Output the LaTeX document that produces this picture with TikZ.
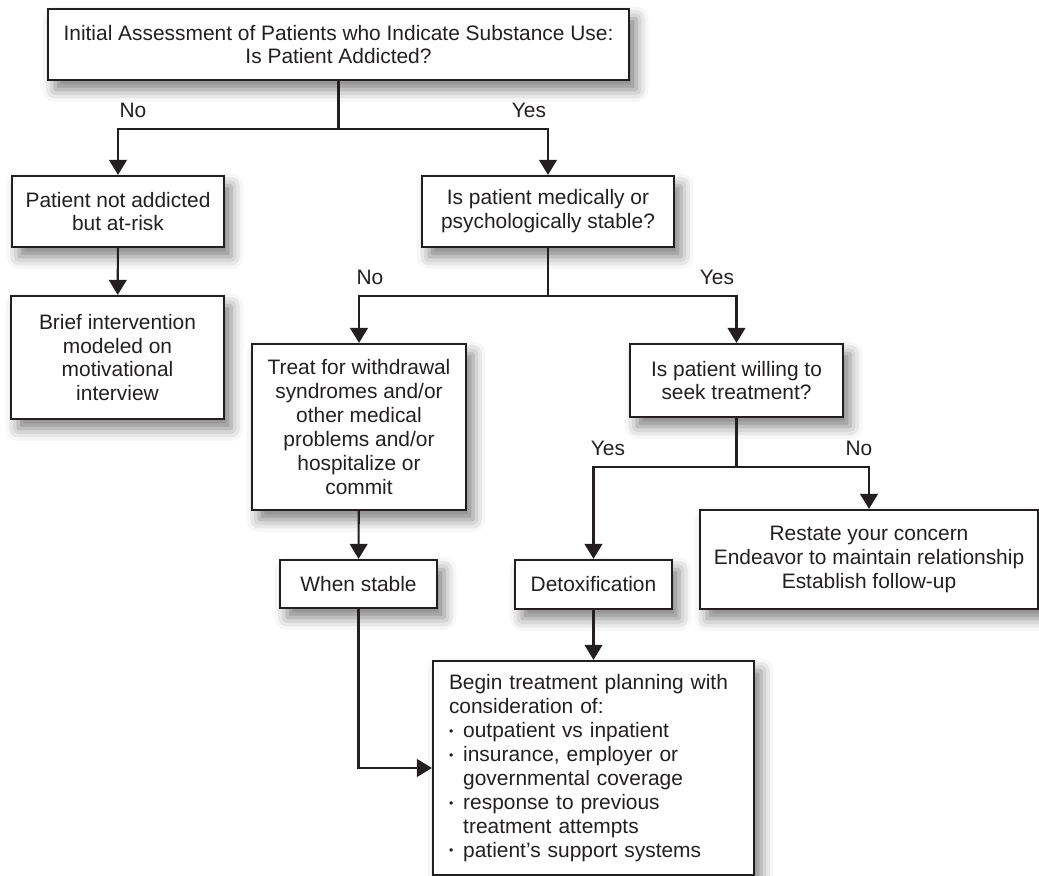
\documentclass[tikz,border=0pt]{standalone}
\usepackage{fontspec}
\setmainfont{Liberation Sans}
\usepackage{tikz}
\usetikzlibrary{arrows.meta,shadows.blur}
\definecolor{inkgray}{HTML}{231F20}
\newcommand{\boxfont}{\fontsize{11.9pt}{13.6pt}\selectfont}
\newcommand{\itm}{\makebox[0.68em][l]{\raisebox{0.2ex}{\scriptsize\textbullet}}}

\begin{document}
\begin{tikzpicture}[
  box/.style={draw=inkgray, line width=1.25pt, fill=white, text=inkgray, align=center, inner sep=2pt, font=\boxfont,
    blur shadow={shadow xshift=4pt, shadow yshift=-5.5pt, shadow blur radius=7pt, shadow opacity=50}},
  arr/.style={draw=inkgray, line width=1.2pt, -{Triangle[length=8.5pt,width=10pt]}},
  lbl/.style={font=\boxfont, text=inkgray}
]
\useasboundingbox (0,0) rectangle (20.78,-17.52);

% Boxes
\node[box, minimum width=11.62cm, minimum height=1.42cm] (top) at (6.77,-0.89)
  {Initial Assessment of Patients who Indicate Substance Use:\\ Is Patient Addicted?};
\node[box, minimum width=4.24cm, minimum height=1.42cm] (notadd) at (2.36,-4.23) {Patient not addicted\\ but at-risk};
\node[box, minimum width=4.26cm, minimum height=2.46cm] (brief) at (2.35,-7.15) {Brief intervention\\ modeled on\\ motivational\\ interview};
\node[box, minimum width=5.04cm, minimum height=1.42cm] (stable) at (10.96,-4.23) {Is patient medically or\\ psychologically stable?};
\node[box, minimum width=4.28cm, minimum height=3.32cm] (treat) at (7.18,-8.54)
  {Treat for withdrawal\\ syndromes and/or\\ other medical\\ problems and/or\\ hospitalize or\\ commit};
\node[box, minimum width=4.26cm, minimum height=1.46cm] (willing) at (14.73,-7.61) {Is patient willing to\\ seek treatment?};
\node[box, minimum width=3.14cm, minimum height=0.96cm] (whenst) at (7.17,-11.68) {When stable};
\node[box, minimum width=3.14cm, minimum height=0.98cm] (detox) at (11.87,-11.69) {Detoxification};
\node[box, minimum width=6.76cm, minimum height=1.98cm] (restate) at (17.38,-11.19)
  {Restate your concern\\ Endeavor to maintain relationship\\ Establish follow-up};
\node[box, align=left, text width=5.78cm, inner xsep=0.32cm, minimum height=4.28cm] (plan) at (11.87,-15.36)
  {Begin treatment planning with\\ consideration of:\\
   \itm outpatient vs inpatient\\
   \itm insurance, employer or\\ \hspace*{0.68em}governmental coverage\\
   \itm response to previous\\ \hspace*{0.68em}treatment attempts\\
   \itm patient's support systems};

% Arrows
\draw[arr] (top.south) -- ++(0,-0.96) -| (notadd.north);
\draw[arr] (top.south) -- ++(0,-0.96) -| (stable.north);
\draw[arr] (notadd) -- (brief);
\draw[arr] (stable.south) -- ++(0,-0.96) -| (treat.north);
\draw[arr] (stable.south) -- ++(0,-0.96) -| (willing.north);
\draw[arr] (treat) -- (whenst);
\draw[arr] (willing.south) -- ++(0,-0.98) -| (detox.north);
\draw[arr] (willing.south) -- ++(0,-0.98) -| (restate.north);
\draw[arr] (detox) -- (plan);
\draw[arr] (whenst.south) |- (plan.west);

% Labels
\node[lbl] (no1) at (2.66,-2.2) {No};
\node[lbl] (yes1) at (10.58,-2.2) {Yes};
\node[lbl] (no2) at (7.4,-5.54) {No};
\node[lbl] (yes2) at (14.34,-5.54) {Yes};
\node[lbl] (yes3) at (12.16,-8.96) {Yes};
\node[lbl] (no3) at (17.18,-8.96) {No};
\end{tikzpicture}
\end{document}
